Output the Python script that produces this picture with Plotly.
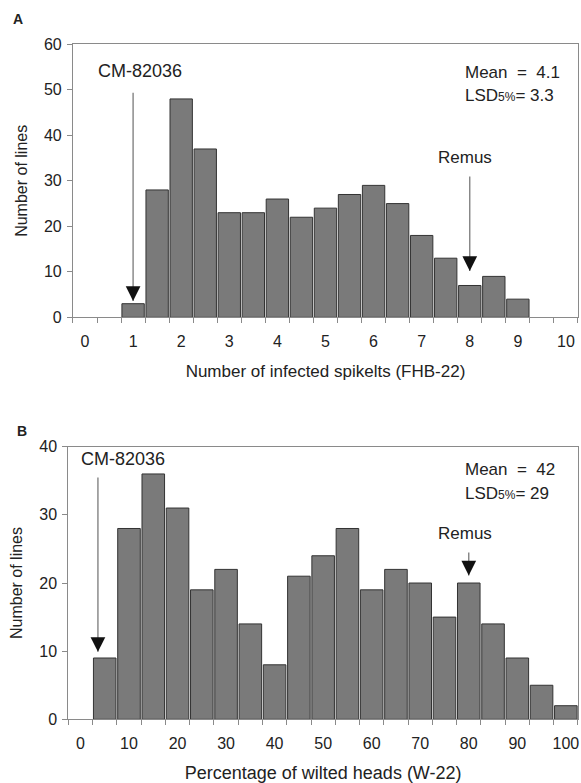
import plotly.graph_objects as go

# ---- Data ----
# Panel A: number of infected spikelets (FHB-22), bins of 0.5
bins_a = [0, 0.5, 1.0, 1.5, 2.0, 2.5, 3.0, 3.5, 4.0, 4.5, 5.0, 5.5, 6.0, 6.5, 7.0, 7.5, 8.0, 8.5, 9.0, 9.5, 10.0]
counts_a = [0, 0, 3, 28, 48, 37, 23, 23, 26, 22, 24, 27, 29, 25, 18, 13, 7, 9, 4, 0, 0]
ticks_a = [0, 1, 2, 3, 4, 5, 6, 7, 8, 9, 10]
yticks_a = [0, 10, 20, 30, 40, 50, 60]

# Panel B: percentage of wilted heads (W-22), bins of 5
bins_b = [0, 5, 10, 15, 20, 25, 30, 35, 40, 45, 50, 55, 60, 65, 70, 75, 80, 85, 90, 95, 100]
counts_b = [0, 9, 28, 36, 31, 19, 22, 14, 8, 21, 24, 28, 19, 22, 20, 15, 20, 14, 9, 5, 2]
ticks_b = [0, 10, 20, 30, 40, 50, 60, 70, 80, 90, 100]
yticks_b = [0, 10, 20, 30, 40]

cm_a, remus_a = 1.0, 8.0
cm_b, remus_b = 3.6, 80.0

FONT = "Arial, Liberation Sans, sans-serif"
TXT = "#222222"
AX = "#8a8a8a"
BAR = "#7a7a7a"
EDGE = "#333333"

def nz(v):
    return [c if c > 0 else None for c in v]

fig = go.Figure()
fig.add_trace(go.Bar(x=bins_a, y=nz(counts_a), xaxis="x", yaxis="y",
                     marker=dict(color=BAR, line=dict(color=EDGE, width=1)),
                     showlegend=False, hoverinfo="skip"))
fig.add_trace(go.Bar(x=bins_b, y=nz(counts_b), xaxis="x2", yaxis="y2",
                     marker=dict(color=BAR, line=dict(color=EDGE, width=1)),
                     showlegend=False, hoverinfo="skip"))

def xax(domain, anchor, rng, tv, step, title, tsize):
    return dict(domain=domain, anchor=anchor, range=rng, tickmode="array", tickvals=tv,
                ticktext=[str(t) for t in tv], ticks="", showgrid=False, zeroline=False,
                showline=True, linecolor=AX, linewidth=1, mirror=True, automargin=False,
                ticklabeloverflow="allow", ticklabelstandoff=9,
                tickfont=dict(family=FONT, size=16, color=TXT),
                minor=dict(tickmode="linear", tick0=rng[0], dtick=step, ticks="outside",
                           ticklen=5, tickcolor=AX, tickwidth=1, showgrid=False),
                title=dict(text=title, font=dict(family=FONT, size=tsize, color=TXT), standoff=16),
                fixedrange=True)

def yax(domain, anchor, rng, tv, dt):
    return dict(domain=domain, anchor=anchor, range=rng, tickmode="linear", tick0=0, dtick=dt,
                ticks="outside", ticklen=5, tickcolor=AX, showgrid=False, zeroline=False,
                showline=True, linecolor=AX, linewidth=1, mirror=True, automargin=False,
                ticklabeloverflow="allow", ticklabelstandoff=2,
                tickfont=dict(family=FONT, size=16, color=TXT),
                title=dict(text="Number of lines", font=dict(family=FONT, size=16, color=TXT), standoff=12),
                fixedrange=True)

fig.update_layout(
    width=581, height=783,
    margin=dict(l=0, r=0, t=0, b=0),
    paper_bgcolor="white", plot_bgcolor="white",
    bargap=0.07,
    xaxis=xax([0.1256, 0.9948], "y", [-0.25, 10.25], ticks_a, 0.5, "Number of infected spikelts (FHB-22)", 17),
    yaxis=yax([0.5947, 0.9434], "x", [0, 60], yticks_a, 10),
    xaxis2=xax([0.1176, 0.9948], "y2", [-2.5, 102.5], ticks_b, 5, "Percentage of wilted heads (W-22)", 18),
    yaxis2=yax([0.0813, 0.4295], "x2", [0, 40], yticks_b, 10),
)

def txt(text, x, y, xr, yr, size=17, anchor="center", bold=False):
    fig.add_annotation(text=("<b>%s</b>" % text) if bold else text, x=x, y=y, xref=xr, yref=yr,
                       showarrow=False, xanchor=anchor, yanchor="middle",
                       font=dict(family=FONT, size=size, color=TXT))

def arrow(x, ytip, ytail, xr, yr):
    # grey shaft
    fig.add_annotation(x=x, y=ytip, ax=x, ay=ytail, xref=xr, yref=yr, axref=xr, ayref=yr,
                       text="", showarrow=True, arrowhead=0, arrowwidth=1.3, arrowcolor="#7a7a7a")
    # black head
    fig.add_annotation(x=x, y=ytip, ax=0, ay=-10, xref=xr, yref=yr,
                       text="", showarrow=True, arrowhead=2, arrowsize=2.1, arrowwidth=1.4,
                       arrowcolor="#111111", standoff=0)

# Panel A annotations
txt("A", 0.031, 0.9757, "paper", "paper", size=14, bold=True)
txt("CM-82036", 1.14, 54.1, "x", "y", size=18)
arrow(cm_a, 3.6, 49.7, "x", "y")
txt("Remus", 7.91, 35.2, "x", "y")
arrow(remus_a, 10.2, 31.3, "x", "y")
txt("Mean  =  4.1", 7.85, 53.9, "x", "y", anchor="left")
txt("LSD<span style='font-size:12px'>5%</span>= 3.3", 7.85, 48.8, "x", "y", anchor="left")

# Panel B annotations
txt("B", 0.038, 0.4496, "paper", "paper", size=14, bold=True)
txt("CM-82036", 8.8, 38.2, "x2", "y2", size=18)
arrow(cm_b, 9.9, 35.7, "x2", "y2")
txt("Remus", 79.2, 27.3, "x2", "y2")
arrow(remus_b, 21.1, 24.7, "x2", "y2")
txt("Mean  =  42", 78.8, 36.6, "x2", "y2", anchor="left")
txt("LSD<span style='font-size:12px'>5%</span>= 29", 78.8, 33.2, "x2", "y2", anchor="left")

fig.write_html("out.html", config={"displayModeBar": False},
               post_script="document.body.style.margin='0';document.body.style.overflow='hidden';")
